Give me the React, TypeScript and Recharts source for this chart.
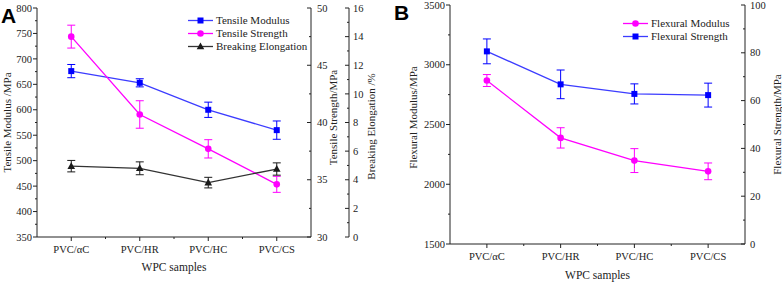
import React from 'react';
import { ComposedChart, Line, XAxis, YAxis, ErrorBar, Legend } from 'recharts';

// samples on the x axis
const categories = ['PVC/αC', 'PVC/HR', 'PVC/HC', 'PVC/CS'];

// panel A
const tensileModulus = [676, 653, 600, 560];
const tensileModulusErr = [13, 8, 15, 18];
const tensileStrength = [47.5, 40.7, 37.7, 34.6];
const tensileStrengthErr = [1.0, 1.2, 0.8, 0.7];
const breakingElongation = [4.95, 4.8, 3.8, 4.75];
const breakingElongationErr = [0.4, 0.45, 0.37, 0.43];

// panel B
const flexuralModulus = [2868, 2388, 2198, 2108];
const flexuralModulusErr = [50, 85, 100, 70];
const flexuralStrength = [80.6, 66.8, 62.8, 62.3];
const flexuralStrengthErr = [5.2, 6, 4.2, 5];

// axis ticks (minor ticks included, majors get a label)
const tensileModulusTicks = [350, 375, 400, 425, 450, 475, 500, 525, 550, 575, 600, 625, 650, 675, 700, 725, 750, 775, 800];
const tensileStrengthTicks = [30, 32.5, 35, 37.5, 40, 42.5, 45, 47.5, 50];
const elongationTicks = [0, 1, 2, 3, 4, 5, 6, 7, 8, 9, 10, 11, 12, 13, 14, 15, 16];
const flexuralModulusTicks = [1500, 1750, 2000, 2250, 2500, 2750, 3000, 3250, 3500];
const flexuralStrengthTicks = [0, 10, 20, 30, 40, 50, 60, 70, 80, 90, 100];

const tensileData = categories.map((name, i) => ({
  name,
  tm: tensileModulus[i],
  tmErr: tensileModulusErr[i],
  ts: tensileStrength[i],
  tsErr: tensileStrengthErr[i],
  be: breakingElongation[i],
  beErr: breakingElongationErr[i],
}));

const flexuralData = categories.map((name, i) => ({
  name,
  fm: flexuralModulus[i],
  fmErr: flexuralModulusErr[i],
  fs: flexuralStrength[i],
  fsErr: flexuralStrengthErr[i],
}));

const serif = '"Liberation Serif", "Times New Roman", serif';
const ink = '#222';
const BLUE = '#0000ff';
const BLUE_LINE = '#3c3cff';
const MAGENTA = '#ff00ff';
const BLACK = '#1a1a1a';
const TICK_FONT = 10.5;

const isMajor = (v: number, step: number) => Math.abs(v / step - Math.round(v / step)) < 1e-6;

// outward ticks on a left axis
const leftTick = (step: number) => (props: any) => {
  const { x, y, payload } = props;
  const major = isMajor(payload.value, step);
  return (
    <g>
      <line x1={x - (major ? 4 : 2)} x2={x} y1={y} y2={y} stroke={ink} />
      {major && (
        <text x={x - 5} y={y} dy="0.35em" textAnchor="end" fontSize={TICK_FONT} fontFamily={serif} fill={ink}>
          {payload.value}
        </text>
      )}
    </g>
  );
};

// inward ticks on a right axis, labels outside
const rightTick = (step: number, gap = 5) => (props: any) => {
  const { x, y, payload } = props;
  const major = isMajor(payload.value, step);
  return (
    <g>
      <line x1={x - (major ? 4 : 2)} x2={x} y1={y} y2={y} stroke={ink} />
      {major && (
        <text x={x + gap} y={y} dy="0.35em" textAnchor="start" fontSize={TICK_FONT} fontFamily={serif} fill={ink}>
          {payload.value}
        </text>
      )}
    </g>
  );
};

const bottomTick = (props: any) => {
  const { x, y, payload, index } = props;
  const off = payload.offset || 0;
  return (
    <g>
      <line x1={x} x2={x} y1={y} y2={y + 4} stroke={ink} />
      {index > 0 && <line x1={x - off} x2={x - off} y1={y} y2={y + 2} stroke={ink} />}
      <text x={x} y={y + 15.5} textAnchor="middle" fontSize={TICK_FONT} fontFamily={serif} fill={ink}>
        {payload.value}
      </text>
    </g>
  );
};

const yTitle = (text: string, dx: number, dy = 0) => (props: any) => {
  const { x, y, height } = props.viewBox;
  const cx = x + dx;
  const cy = y + height / 2 + dy;
  return (
    <text
      x={cx}
      y={cy}
      transform={`rotate(-90, ${cx}, ${cy})`}
      textAnchor="middle"
      dominantBaseline="central"
      fontSize={11}
      fontFamily={serif}
      fill={ink}
    >
      {text}
    </text>
  );
};

const xTitle = (text: string, dy: number) => (props: any) => {
  const { x, y, width } = props.viewBox;
  return (
    <text x={x + width / 2} y={y + dy} textAnchor="middle" dominantBaseline="central" fontSize={11.5} fontFamily={serif} fill={ink}>
      {text}
    </text>
  );
};

type Shape = 'square' | 'circle' | 'triangle';

const marker = (shape: Shape, cx: number, cy: number, color: string, key?: string) => {
  if (shape === 'square') return <rect key={key} x={cx - 3} y={cy - 3} width={6} height={6} fill={color} />;
  if (shape === 'circle') return <circle key={key} cx={cx} cy={cy} r={3.3} fill={color} />;
  return <polygon key={key} points={`${cx},${cy - 4} ${cx - 3.8},${cy + 2.8} ${cx + 3.8},${cy + 2.8}`} fill={color} />;
};

const dot = (shape: Shape, color: string) => (props: any) => {
  const { cx, cy, index } = props;
  if (cx == null || cy == null) return <g key={`e${index}`} />;
  return marker(shape, cx, cy, color, `${shape}${index}`);
};

type LegendItem = { label: string; color: string; line: string; shape: Shape };

const legendContent = (items: LegendItem[]) => () => (
  <div style={{ fontFamily: serif, fontSize: 11, color: ink, lineHeight: '13px' }}>
    {items.map((it) => (
      <div key={it.label} style={{ display: 'flex', alignItems: 'center', height: 13 }}>
        <svg width={26} height={13} style={{ display: 'block' }}>
          <line x1={0} x2={25} y1={6.5} y2={6.5} stroke={it.line} strokeWidth={1.3} />
          {marker(it.shape, 12.5, 6.5, it.color)}
        </svg>
        <span style={{ marginLeft: 2, whiteSpace: 'nowrap' }}>{it.label}</span>
      </div>
    ))}
  </div>
);

const tensileLegend: LegendItem[] = [
  { label: 'Tensile Modulus', color: BLUE, line: BLUE_LINE, shape: 'square' },
  { label: 'Tensile Strength', color: MAGENTA, line: MAGENTA, shape: 'circle' },
  { label: 'Breaking Elongation', color: BLACK, line: '#333', shape: 'triangle' },
];

const flexuralLegend: LegendItem[] = [
  { label: 'Flexural Modulus', color: MAGENTA, line: MAGENTA, shape: 'circle' },
  { label: 'Flexural Strength', color: BLUE, line: BLUE_LINE, shape: 'square' },
];

const axisLine = { stroke: ink, strokeWidth: 1 };

const panelLetter: React.CSSProperties = {
  position: 'absolute',
  fontFamily: 'Arial, "Liberation Sans", sans-serif',
  fontWeight: 'bold',
  fontSize: 21,
  lineHeight: '22px',
  color: '#000',
};

function TensileChart() {
  return (
    <ComposedChart width={390} height={283} data={tensileData} margin={{ top: 8, right: 0, bottom: 0, left: 0 }}>
      <XAxis dataKey="name" scale="band" height={46} axisLine={axisLine} tickLine={false} tickSize={0} tickMargin={0} tick={bottomTick} interval={0} label={{ content: xTitle('WPC samples', 30) }} />
      <XAxis xAxisId="top" orientation="top" dataKey="name" scale="band" height={0} axisLine={axisLine} tick={false} tickLine={false} />
      <YAxis yAxisId="left" width={37} domain={[350, 800]} ticks={tensileModulusTicks} interval={0} axisLine={axisLine} tickLine={false} tickSize={0} tickMargin={0} tick={leftTick(50)} label={{ content: yTitle('Tensile Modulus /MPa', 6.5) }} />
      <YAxis yAxisId="r1" orientation="right" width={38} domain={[30, 50]} ticks={tensileStrengthTicks} interval={0} axisLine={axisLine} tickLine={false} tickSize={0} tickMargin={0} tick={rightTick(5, 6)} label={{ content: yTitle('Tensile Strength/MPa', 22, -5) }} />
      <YAxis yAxisId="r2" orientation="right" width={41} domain={[0, 16]} ticks={elongationTicks} interval={0} axisLine={axisLine} tickLine={false} tickSize={0} tickMargin={0} tick={rightTick(2, 4)} label={{ content: yTitle('Breaking Elongation /%', 22, 4) }} />
      <Line yAxisId="left" dataKey="tm" stroke={BLUE_LINE} strokeWidth={1.3} dot={dot('square', BLUE)} isAnimationActive={false}>
        <ErrorBar dataKey="tmErr" width={4} stroke={BLUE} strokeWidth={1} />
      </Line>
      <Line yAxisId="r1" dataKey="ts" stroke={MAGENTA} strokeWidth={1.3} dot={dot('circle', MAGENTA)} isAnimationActive={false}>
        <ErrorBar dataKey="tsErr" width={4} stroke={MAGENTA} strokeWidth={1} />
      </Line>
      <Line yAxisId="r2" dataKey="be" stroke="#333" strokeWidth={1.3} dot={dot('triangle', BLACK)} isAnimationActive={false}>
        <ErrorBar dataKey="beErr" width={4} stroke={BLACK} strokeWidth={1} />
      </Line>
      <Legend
        layout="horizontal"
        verticalAlign="middle"
        align="center"
        content={legendContent(tensileLegend)}
        wrapperStyle={{ top: 13.5, left: 188, right: 'auto', bottom: 'auto', width: 'auto', height: 'auto' }}
      />
    </ComposedChart>
  );
}

function FlexuralChart() {
  return (
    <ComposedChart width={392} height={283} data={flexuralData} margin={{ top: 5, right: 0, bottom: 0, left: 0 }}>
      <XAxis dataKey="name" scale="band" height={39} axisLine={axisLine} tickLine={false} tickSize={0} tickMargin={0} tick={bottomTick} interval={0} label={{ content: xTitle('WPC samples', 31) }} />
      <XAxis xAxisId="top" orientation="top" dataKey="name" scale="band" height={0} axisLine={axisLine} tick={false} tickLine={false} />
      <YAxis yAxisId="fm" width={60} domain={[1500, 3500]} ticks={flexuralModulusTicks} interval={0} axisLine={axisLine} tickLine={false} tickSize={0} tickMargin={0} tick={leftTick(500)} label={{ content: yTitle('Flexural Modulus/MPa', 23, -7) }} />
      <YAxis yAxisId="fs" orientation="right" width={37} domain={[0, 100]} ticks={flexuralStrengthTicks} interval={0} axisLine={axisLine} tickLine={false} tickSize={0} tickMargin={0} tick={rightTick(20)} label={{ content: yTitle('Flexural Strength/MPa', 32) }} />
      <Line yAxisId="fm" dataKey="fm" stroke={MAGENTA} strokeWidth={1.3} dot={dot('circle', MAGENTA)} isAnimationActive={false}>
        <ErrorBar dataKey="fmErr" width={4} stroke={MAGENTA} strokeWidth={1} />
      </Line>
      <Line yAxisId="fs" dataKey="fs" stroke={BLUE_LINE} strokeWidth={1.3} dot={dot('square', BLUE)} isAnimationActive={false}>
        <ErrorBar dataKey="fsErr" width={4} stroke={BLUE} strokeWidth={1} />
      </Line>
      <Legend
        layout="horizontal"
        verticalAlign="middle"
        align="center"
        content={legendContent(flexuralLegend)}
        wrapperStyle={{ top: 16.5, left: 233, right: 'auto', bottom: 'auto', width: 'auto', height: 'auto' }}
      />
    </ComposedChart>
  );
}

export default function App() {
  return (
    <div style={{ position: 'absolute', left: 0, top: 0, width: 782, height: 283, background: '#fff', overflow: 'hidden' }}>
      <div style={{ position: 'absolute', left: 0, top: 0 }}>
        <TensileChart />
      </div>
      <div style={{ position: 'absolute', left: 390, top: 0 }}>
        <FlexuralChart />
      </div>
      <div style={{ ...panelLetter, left: 1, top: 5 }}>A</div>
      <div style={{ ...panelLetter, left: 394, top: 2 }}>B</div>
    </div>
  );
}
